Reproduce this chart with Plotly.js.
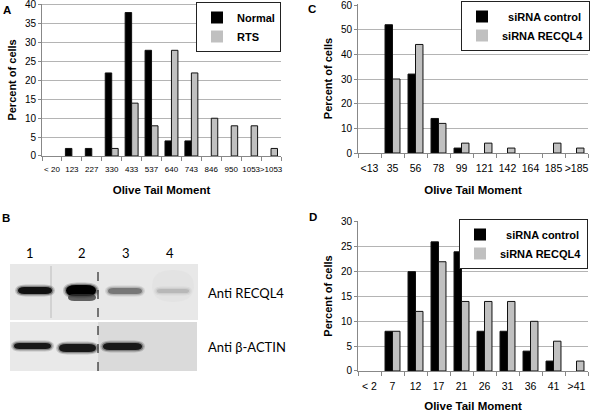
<!DOCTYPE html>
<html>
<head>
<meta charset="utf-8">
<script src="https://cdn.plot.ly/plotly-3.0.1.min.js"></script>
<style>html,body{margin:0;padding:0;background:#fff;}#chart{width:594px;height:412px;}</style>
</head>
<body>
<div id="chart"></div>
<script>
// ---- Data ----
var catsA = ['< 20','123','227','330','433','537','640','743','846','950','1053','>1053'];
var normalA = [0,2,2,22,38,28,4,4,0,0,0,0];
var rtsA    = [0,0,0,2,14,8,28,22,10,8,8,2];

var catsC = ['<13','35','56','78','99','121','142','164','185','>185'];
var ctrlC = [0,52,32,14,2,0,0,0,0,0];
var recqC = [0,30,44,12,4,4,2,0,4,2];

var catsD = ['< 2','7','12','17','21','26','31','36','41','>41'];
var ctrlD = [0,8,20,26,24,8,8,4,2,0];
var recqD = [0,8,12,22,14,14,14,10,6,2];

var laneLabels = ['1','2','3','4'];
var blotLabels = ['Anti RECQL4','Anti \u03B2-ACTIN'];

// ---- helpers ----
var W = 594, H = 412;
function px(x){ return x / W; }
function py(y){ return 1 - y / H; }
var FONT = 'Liberation Sans, Arial, sans-serif';
var BLACK = '#000000', GRAY = '#c0c0c0';

function barTrace(x, y, name, color, xa, ya, leg){
  return {type:'bar', x:x, y:y, name:name, xaxis:xa, yaxis:ya, legend:leg,
    marker:{color:color, line:{color:'#111', width:y.map(function(v){ return v > 0 ? 1 : 0; })}},
    hoverinfo:'x+y'};
}

var data = [
  barTrace(catsA, normalA, 'Normal', BLACK, 'x', 'y', 'legend'),
  barTrace(catsA, rtsA, 'RTS', GRAY, 'x', 'y', 'legend'),
  barTrace(catsC, ctrlC, '\u00a0\u00a0siRNA control', BLACK, 'x2', 'y2', 'legend2'),
  barTrace(catsC, recqC, 'siRNA RECQL4', GRAY, 'x2', 'y2', 'legend2'),
  barTrace(catsD, ctrlD, '\u00a0\u00a0siRNA control', BLACK, 'x3', 'y3', 'legend3'),
  barTrace(catsD, recqD, 'siRNA RECQL4', GRAY, 'x3', 'y3', 'legend3')
];

function xAxis(domain, anchor, tickSize){
  return {domain:domain, anchor:anchor, type:'category', ticks:'outside', tickson:'boundaries',
    ticklen:4, tickcolor:'#888', showline:true, linecolor:'#888', linewidth:1, showgrid:false,
    tickangle:0, automargin:false, ticklabeloverflow:'allow',
    tickfont:{family:FONT, size:tickSize, color:'#000'}, ticklabelstandoff:5, fixedrange:true,
    title:{text:'Olive Tail Moment', font:{family:FONT, size:11.5, weight:'bold', color:'#000'}, standoff:13}};
}
function yAxis(domain, anchor, range, dtick){
  return {domain:domain, anchor:anchor, range:range, dtick:dtick, tick0:0, ticks:'outside', ticklen:3,
    tickcolor:'#888', showline:true, linecolor:'#888', linewidth:1, showgrid:true,
    gridcolor:'#b4b4b4', gridwidth:1, zeroline:false, fixedrange:true, automargin:false,
    ticklabeloverflow:'allow',
    tickfont:{family:FONT, size:10, color:'#000'},
    title:{text:'Percent of cells', font:{family:FONT, size:11, weight:'bold', color:'#000'}, standoff:6}};
}
function legendBox(xr, ytop){
  return {x:px(xr), y:py(ytop), xanchor:'right', yanchor:'top', bgcolor:'#fff',
    bordercolor:'#222', borderwidth:1, font:{family:FONT, size:11, weight:'bold', color:'#000'},
    tracegroupgap:0, itemwidth:30};
}
// range slightly above the top tick so the top tick/gridline is drawn;
// the domain top is placed so the top tick sits where the reference has it
function topFor(yTopTick, yZero, maxTick, maxRange){
  return yZero - (yZero - yTopTick) * maxRange / maxTick;
}

// ---- Panel B blot drawn as shapes ----
var shapes = [];
function rect(x0,y0,x1,y1,fill,op){
  shapes.push({type:'rect', xref:'paper', yref:'paper', x0:px(x0), x1:px(x1), y0:py(y1), y1:py(y0),
    fillcolor:fill, opacity:(op===undefined?1:op), line:{width:0}, layer:'above'});
}
function P(x,y){ return px(x).toFixed(5) + ',' + py(y).toFixed(5); }
function blob(x0,y0,x1,y1,fill,op){
  var r = Math.min((x1-x0)/2, (y1-y0)*0.9), yc = (y0+y1)/2;
  var d = 'M' + P(x0+r,y0) + ' L' + P(x1-r,y0) + ' Q' + P(x1,y0) + ' ' + P(x1,yc) +
          ' Q' + P(x1,y1) + ' ' + P(x1-r,y1) + ' L' + P(x0+r,y1) + ' Q' + P(x0,y1) + ' ' + P(x0,yc) +
          ' Q' + P(x0,y0) + ' ' + P(x0+r,y0) + ' Z';
  shapes.push({type:'path', xref:'paper', yref:'paper', path:d, fillcolor:fill,
    opacity:(op===undefined?1:op), line:{width:0}, layer:'above'});
}
function band(x0,y0,x1,y1,fill){
  blob(x0-3,y0-2.5,x1+3,y1+2.5,fill,0.18);
  blob(x0-1.5,y0-1.2,x1+1.5,y1+1.2,fill,0.35);
  blob(x0,y0,x1,y1,fill,1);
}
rect(10,264,198,320,'#e8e8e8');
rect(10,322,98,371,'#e9e9e9');
rect(98,322,197,371,'#dadada');
blob(152,270,194,302,'#dedede',0.45);
shapes.push({type:'line', xref:'paper', yref:'paper', x0:px(51), x1:px(51), y0:py(318), y1:py(266),
  line:{color:'#d2d2d2', width:2}, layer:'above'});
band(18,287,52,294,'#111');
band(66,285,96,296,'#000');
blob(68,294,96,301,'#333',0.75);
band(108,288,142,294,'#777');
band(157,289,189,293,'#b8b8b8');
band(14,343,51,349,'#181818');
band(59,344,96,352,'#181818');
band(103,343,142,350,'#181818');
shapes.push({type:'line', xref:'paper', yref:'paper', x0:px(98), x1:px(98), y0:py(371), y1:py(264),
  line:{color:'#000', width:1, dash:'dash'}, layer:'above'});

// ---- annotations ----
var annotations = [];
function ann(text, x, y, opts){
  var a = {text:text, xref:'paper', yref:'paper', x:px(x), y:py(y), showarrow:false,
    xanchor:'center', yanchor:'middle', font:{family:FONT, size:11.5, weight:'bold', color:'#000'}};
  for (var k in opts) a[k] = opts[k];
  annotations.push(a);
}
ann('A', 6.5, 10, {});
ann('B', 5.5, 218, {});
ann('C', 312, 9, {});
ann('D', 313, 217, {});
var laneX = [30, 81.5, 126, 170];
laneLabels.forEach(function(t,i){ ann(t, laneX[i], 253, {font:{family:'Lato, sans-serif', size:13, color:'#000'}}); });
ann(blotLabels[0], 206, 293, {xanchor:'left', font:{family:'Lato, sans-serif', size:13, color:'#000'}});
ann(blotLabels[1], 206, 347, {xanchor:'left', font:{family:'Lato, sans-serif', size:13, color:'#000'}});

var layout = {
  width:W, height:H, margin:{l:0,r:0,t:0,b:0}, paper_bgcolor:'#fff', plot_bgcolor:'#fff',
  barmode:'group', bargap:0.35, bargroupgap:0, showlegend:true,
  font:{family:FONT, color:'#000'},
  xaxis: xAxis([px(42), px(281)], 'y', 8),
  yaxis: yAxis([py(156), py(topFor(5,156,40,40.3))], 'x', [0,40.3], 5),
  xaxis2: xAxis([px(358), px(588)], 'y2', 10.5),
  yaxis2: yAxis([py(153), py(topFor(5,153,60,60.4))], 'x2', [0,60.4], 10),
  xaxis3: xAxis([px(358), px(588)], 'y3', 10.5),
  yaxis3: yAxis([py(371), py(topFor(222,371,30,30.2))], 'x3', [0,30.2], 5),
  legend: legendBox(281, 2),
  legend2: legendBox(590, 1),
  legend3: legendBox(588, 219),
  shapes: shapes,
  annotations: annotations
};

Plotly.newPlot('chart', data, layout, {displayModeBar:false, staticPlot:true});
</script>
</body>
</html>
